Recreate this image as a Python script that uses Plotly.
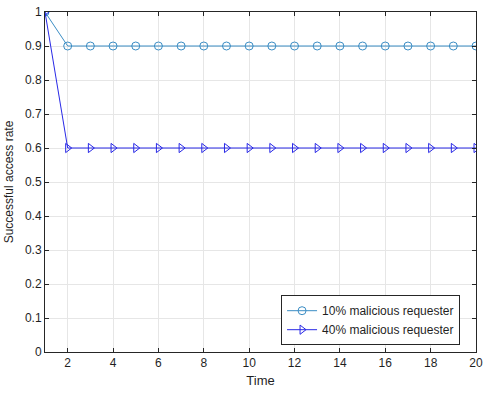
import plotly.graph_objects as go

time = list(range(1, 21))
rate_10 = [1.0] + [0.9] * 19
rate_40 = [1.0] + [0.6] * 19
names = ["10% malicious requester", "40% malicious requester"]
x_ticks = list(range(2, 21, 2))
y_ticks = [round(i * 0.1, 1) for i in range(11)]
y_tick_text = ["0", "0.1", "0.2", "0.3", "0.4", "0.5", "0.6", "0.7", "0.8", "0.9", "1"]

FONT = "Liberation Sans, Arial"
INK = "#1f1f1f"

fig = go.Figure()
fig.add_trace(go.Scatter(
    x=time, y=rate_10, name=names[0], mode="lines+markers",
    line=dict(color="#3b8dc4", width=1),
    marker=dict(symbol="circle-open", size=8, color="#3b8dc4", line=dict(width=1)),
))
fig.add_trace(go.Scatter(
    x=time, y=rate_40, name=names[1], mode="lines+markers",
    line=dict(color="#2828e6", width=1),
    marker=dict(symbol="triangle-right-open", size=8, color="#2828e6", line=dict(width=1)),
))

axis_common = dict(
    showline=True, linecolor="#262626", linewidth=1, mirror="ticks",
    ticks="inside", ticklen=4, tickcolor="#262626",
    showgrid=True, gridcolor="#e6e6e6", gridwidth=1, zeroline=False,
    tickfont=dict(family=FONT, size=12, color=INK),
    automargin=False,
)
fig.update_xaxes(range=[1, 20], tickvals=x_ticks,
                 title=dict(text="Time", font=dict(family=FONT, size=13, color=INK), standoff=6),
                 **axis_common)
fig.update_yaxes(range=[0, 1], tickvals=y_ticks, ticktext=y_tick_text,
                 title=dict(text="Successful access rate", font=dict(family=FONT, size=12, color=INK), standoff=8),
                 **axis_common)

fig.update_layout(
    width=490, height=396,
    margin=dict(l=45, r=14, t=12, b=44),
    plot_bgcolor="white", paper_bgcolor="white",
    showlegend=True,
    legend=dict(x=0.963, y=0.02, xanchor="right", yanchor="bottom",
                bgcolor="white", bordercolor="#262626", borderwidth=1,
                font=dict(family=FONT, size=12, color=INK),
                tracegroupgap=0, itemwidth=30),
)
fig.write_html("out.html", config={"displayModeBar": False},
               post_script="document.body.style.margin='0';")
